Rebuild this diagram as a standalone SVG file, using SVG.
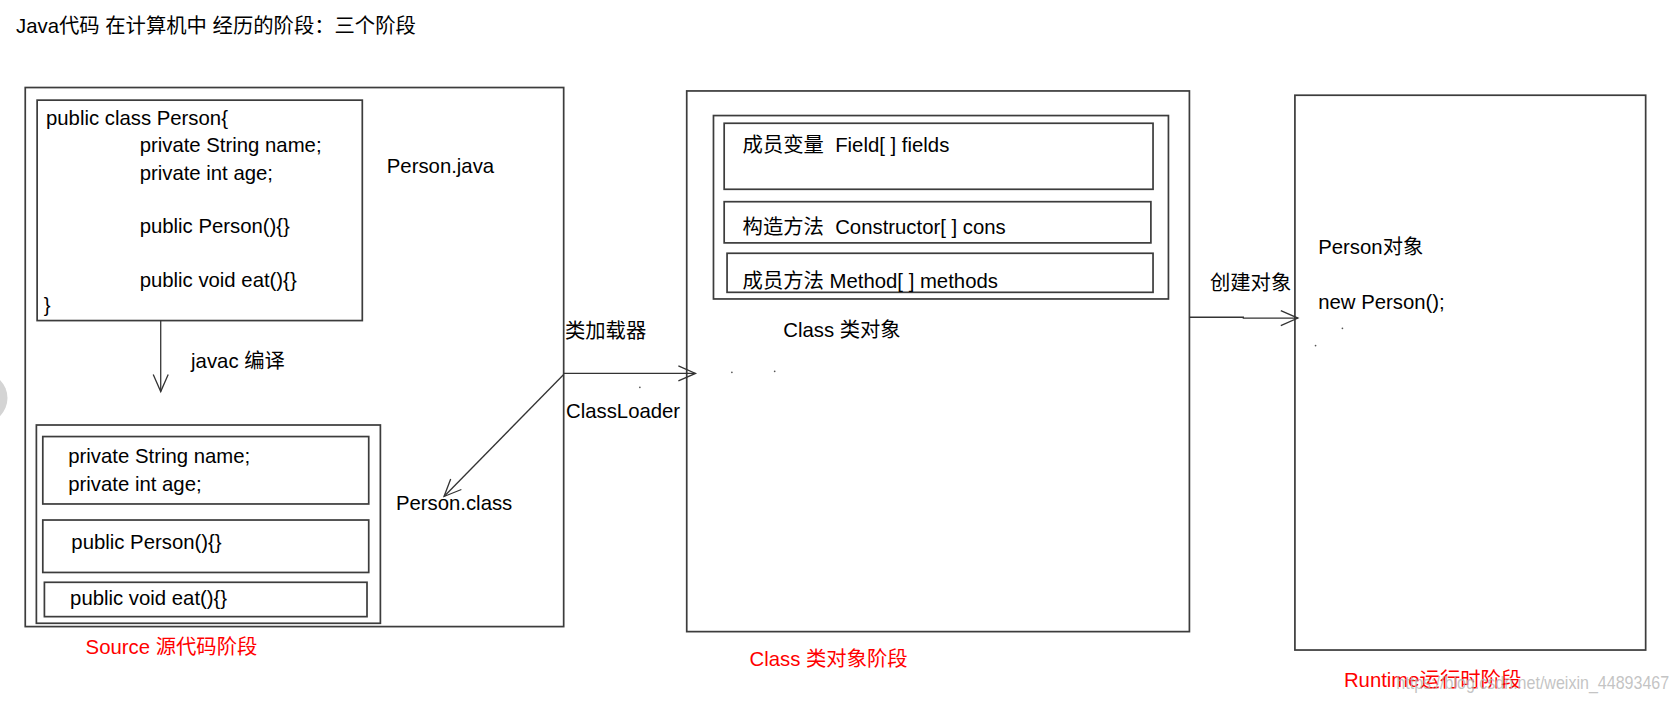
<svg xmlns="http://www.w3.org/2000/svg" width="1678" height="705" viewBox="0 0 1678 705">
<defs>
<style>
.t{font-family:"Liberation Sans","Noto Sans CJK SC",sans-serif;font-size:19px;fill:#000}
.red{fill:#f00}
.box{fill:none;stroke:#3c3c3c;stroke-width:1.6}
.ln{fill:none;stroke:#333;stroke-width:1.2}
.dot{fill:#555}
</style>
<marker id="arr" markerUnits="userSpaceOnUse" markerWidth="22" markerHeight="22" refX="17" refY="8" orient="auto"><path d="M1,1 L17,8 L1,15" fill="none" stroke="#333" stroke-width="1.2"/></marker>
</defs>
<rect width="1678" height="705" fill="#fff"/>
<g transform="scale(1.07)">
<circle cx="-17" cy="372" r="24" fill="#d4d4d4"/>
<g id="title">
<text class="t" x="15" y="31" font-size="19.5">Java代码 在计算机中 经历的阶段：三个阶段</text>
</g>
<g id="source-stage">
<rect class="box" x="23.6" y="81.8" width="503.2" height="503.8"/>
<text class="t red" x="80" y="611.5">Source 源代码阶段</text>
<text class="t" x="361.5" y="162">Person.java</text>
<text class="t" x="370" y="476.6">Person.class</text>
</g>
<g id="person-java">
<rect class="box" x="34.7" y="93.6" width="303.9" height="206"/>
<text class="t" x="43" y="116.8">public class Person{</text>
<text class="t" x="130.5" y="142.3">private String name;</text>
<text class="t" x="130.5" y="168">private int age;</text>
<text class="t" x="130.5" y="218">public Person(){}</text>
<text class="t" x="130.5" y="268.5">public void eat(){}</text>
<text class="t" x="41" y="292">}</text>
</g>
<g id="person-class">
<rect class="box" x="34" y="397.2" width="321.5" height="185.3"/>
<rect class="box" x="40" y="408" width="304.6" height="63"/>
<rect class="box" x="40" y="486" width="304.6" height="49"/>
<rect class="box" x="41.5" y="544.2" width="301.5" height="32.1"/>
<text class="t" x="63.8" y="433">private String name;</text>
<text class="t" x="63.8" y="458.5">private int age;</text>
<text class="t" x="66.7" y="513">public Person(){}</text>
<text class="t" x="65.5" y="565">public void eat(){}</text>
</g>
<g id="class-stage">
<rect class="box" x="641.8" y="85" width="469.8" height="505.3"/>
<rect class="box" x="666.8" y="108" width="425.2" height="171.4"/>
<rect class="box" x="676.8" y="115.2" width="400.8" height="61.7"/>
<rect class="box" x="676.8" y="188.5" width="398.8" height="38.5"/>
<rect class="box" x="679.5" y="236.7" width="398.1" height="36.5"/>
<text class="t" x="694" y="141.7" xml:space="preserve">成员变量  Field[ ] fields</text>
<text class="t" x="694" y="218.7" xml:space="preserve">构造方法  Constructor[ ] cons</text>
<text class="t" x="694" y="269.4">成员方法 Method[ ] methods</text>
<text class="t" x="732" y="315.2">Class 类对象</text>
<text class="t red" x="700.5" y="622.4">Class 类对象阶段</text>
</g>
<g id="runtime-stage">
<rect class="box" x="1210.2" y="89" width="327.8" height="518.5"/>
<text class="t" x="1232" y="237.4">Person对象</text>
<text class="t" x="1232" y="289">new Person();</text>
<circle class="dot" cx="1254.6" cy="306.8" r="0.8"/>
<circle class="dot" cx="1229.5" cy="323" r="0.8"/>
<text class="t red" x="1256" y="642.3">Runtime运行时阶段</text>
<text x="1305" y="643.5" font-family="'Liberation Sans Narrow','Liberation Sans',sans-serif" font-size="17" fill="#b4b4b4" fill-opacity="0.8" textLength="255" lengthAdjust="spacingAndGlyphs">https://blog.csdn.net/weixin_44893467</text>
</g>
<g id="connectors">
<line class="ln" x1="150.2" y1="299.6" x2="150.2" y2="366" marker-end="url(#arr)"/>
<text class="t" x="178.6" y="344.2">javac 编译</text>
<line class="ln" x1="526.8" y1="349" x2="650" y2="349" marker-end="url(#arr)"/>
<line class="ln" x1="526.8" y1="350" x2="415" y2="464" marker-end="url(#arr)"/>
<text class="t" x="528" y="316">类加载器</text>
<text class="t" x="529" y="391">ClassLoader</text>
<circle class="dot" cx="598" cy="362" r="0.8"/>
<circle class="dot" cx="684" cy="348" r="0.8"/>
<circle class="dot" cx="724" cy="347" r="0.8"/>
<polyline class="ln" points="1111.6,296.5 1162,296.5 1162,297.3 1213,297.3" marker-end="url(#arr)"/>
<text class="t" x="1130.8" y="271">创建对象</text>
</g>
</g>
</svg>
